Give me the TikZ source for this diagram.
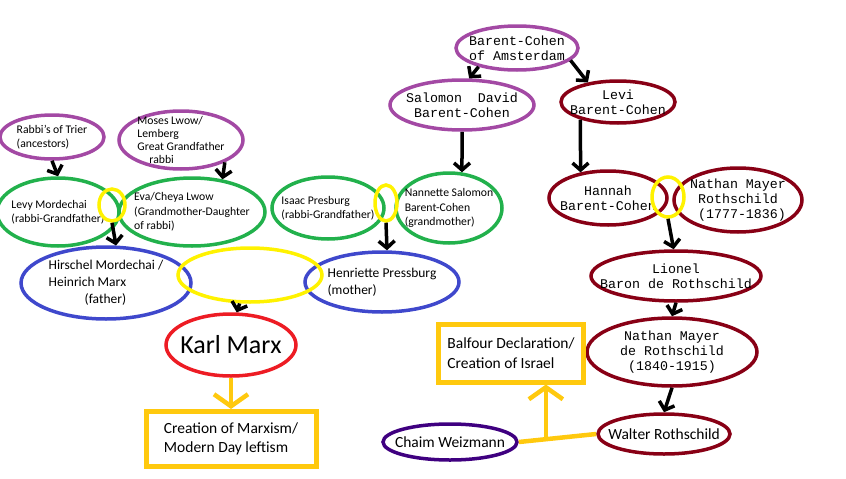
\documentclass[tikz,border=0pt]{standalone}
\usepackage{fontspec}
\setmainfont{Carlito}
\setmonofont{Liberation Mono}
\usepackage{xcolor}
\usetikzlibrary{shapes.geometric,arrows.meta,calc}

\definecolor{anc}{HTML}{A349A4}
\definecolor{grand}{HTML}{22B14C}
\definecolor{parent}{HTML}{3F48CC}
\definecolor{marxred}{HTML}{ED1C24}
\definecolor{roth}{HTML}{880015}
\definecolor{union}{HTML}{FFF200}
\definecolor{gold}{HTML}{FFC90E}
\definecolor{indigo}{HTML}{3F0080}

\begin{document}
\begin{tikzpicture}[
    x=1pt, y=-1pt,
    dims/.style 2 args={minimum width=#1pt, minimum height=#2pt},
    fam/.style={ellipse, draw, line width=3.5pt, inner xsep=-25pt, inner ysep=-12pt, align=left, font=\fontsize{11.7}{14.5}\selectfont},
    mono/.style={fam, align=center, font=\ttfamily\fontsize{13.3}{15}\selectfont},
    couple/.style={ellipse, draw=union, line width=3.5pt, inner sep=0pt},
    result/.style={rectangle, draw=gold, line width=5pt, align=left, inner sep=0pt, font=\fontsize{15.5}{19.5}\selectfont},
    edge/.style={-{Straight Barb[length=7pt,width=16pt]}, line width=3.5pt},
    goldedge/.style={draw=gold, line width=4.5pt, -{Straight Barb[length=12pt,width=34pt]}}
]
    \useasboundingbox (0,0) rectangle (846,479);

    % Marx side
    \node[fam, draw=anc, dims={104}{44}] (trier) at (52,137) {Rabbi's of Trier\\(ancestors)};
    \node[fam, draw=anc, dims={124}{58}, font=\fontsize{11.7}{13}\selectfont] (moses) at (181,140) {Moses Lwow/\\Lemberg\\Great Grandfather\\\hspace*{12pt}rabbi};
    \node[fam, draw=grand, dims={122}{68}] (levy) at (58,212) {Levy Mordechai\\(rabbi-Grandfather)};
    \node[fam, draw=grand, dims={146}{68}] (eva) at (192,212) {Eva/Cheya Lwow\\(Grandmother-Daughter\\of rabbi)};
    \node[fam, draw=grand, dims={112}{62}] (isaac) at (328,208) {Isaac Presburg\\(rabbi-Grandfather)};
    \node[fam, draw=grand, dims={106}{70}] (nannette) at (449,208) {Nannette Salomon\\Barent-Cohen\\(grandmother)};
    \node[fam, draw=parent, dims={170}{72}, font=\fontsize{13.5}{17}\selectfont] (hirschel) at (106,283) {Hirschel Mordechai /\\Heinrich Marx\\\hspace*{36pt}(father)};
    \node[fam, draw=parent, dims={154}{60}, font=\fontsize{13.5}{17}\selectfont] (henriette) at (382,282) {Henriette Pressburg\\(mother)};
    \node[fam, draw=marxred, dims={130}{62}, font=\fontsize{26}{30}\selectfont] (marx) at (231,345) {Karl Marx};
    \node[couple, dims={26}{32}] (ylLeft) at (112,205) {};
    \node[couple, dims={22}{36}] (ylRight) at (386,203) {};
    \node[couple, dims={144}{54}] (ylBig) at (250,275) {};
    \node[result, dims={170}{55}] (marxism) at (231,439) {Creation of Marxism/\\Modern Day leftism};

    % Rothschild side
    \node[mono, draw=anc, dims={122}{44}] (amsterdam) at (517,48) {Barent-Cohen\\of Amsterdam};
    \node[mono, draw=anc, dims={144}{50}] (salomon) at (462,105) {Salomon~~David\\Barent-Cohen};
    \node[mono, draw=roth, dims={114}{42}] (levi) at (618,102) {Levi\\Barent-Cohen};
    \node[mono, draw=roth, dims={118}{54}] (hannah) at (608,198) {Hannah\\Barent-Cohen};
    \node[mono, draw=roth, dims={128}{64}] (nathan) at (738,200) {Nathan Mayer\\Rothschild\\\ (1777-1836)};
    \node[couple, dims={32}{40}] (ylRoth) at (668,197) {};
    \node[mono, draw=roth, dims={170}{50}] (lionel) at (676,276) {Lionel\\Baron de Rothschild};
    \node[mono, draw=roth, dims={170}{68}] (nmdr) at (672,352) {Nathan Mayer\\de Rothschild\\(1840-1915)};
    \node[fam, draw=roth, dims={132}{40}, font=\fontsize{15.5}{19}\selectfont] (walter) at (664,434) {Walter Rothschild};
    \node[fam, draw=indigo, dims={134}{36}, font=\fontsize{15.5}{19}\selectfont] (weizmann) at (450,442) {Chaim Weizmann};
    \node[result, dims={145}{58}] (balfour) at (511,353) {Balfour Declaration/\\Creation of Israel};

    \draw[edge] (trier.south) -- (levy.north);
    \draw[edge] (moses.-27) -- (eva.47);
    \draw[edge] (ylLeft.south) -- (hirschel.75);
    \draw[edge] (ylRight.south) -- (henriette.81);
    \draw[edge] (salomon.south) -- (nannette.70);
    \draw[edge] (ylBig.-110) -- (marx.80);
    \draw[edge] (amsterdam.-154) -- (salomon.75);
    \draw[edge] (amsterdam.-13) -- (levi.147);
    \draw[edge] (levi.-155) -- (hannah.137);
    \draw[edge] (ylRoth.south) -- (lionel.95);
    \draw[edge] (lionel.south) -- (nmdr.north);
    \draw[edge] (nmdr.south) -- (walter.north);

    \draw[goldedge] (marx.south) -- (marxism.north);
    \draw[draw=gold, line width=4.5pt] (weizmann.east) -- (walter.west);
    \coordinate (join) at ($(weizmann.east)!0.35!(walter.west)$);
    \draw[goldedge] (join) -- (join |- balfour.south);
\end{tikzpicture}
\end{document}
